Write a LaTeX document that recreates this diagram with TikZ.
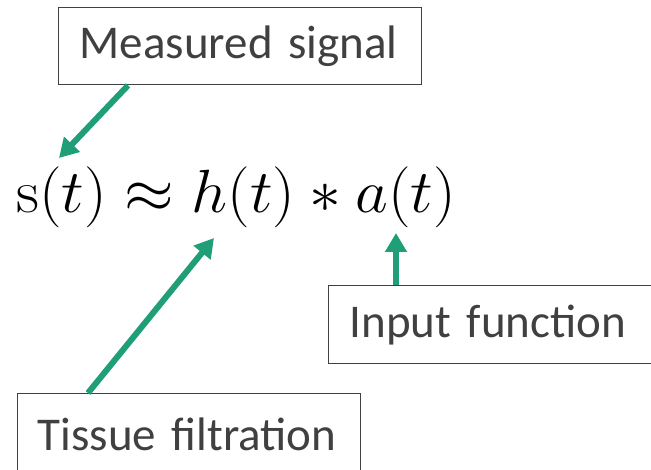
\documentclass[tikz,border=0pt]{standalone}
\usepackage{fix-cm}
\usepackage{amsmath}
\usepackage{graphicx}
\usepackage[no-math]{fontspec}
\setmainfont{Carlito}
\usetikzlibrary{arrows.meta, positioning, calc}
\definecolor{convGreen}{HTML}{1F9E78}
\definecolor{convGray}{HTML}{404040}

\begin{document}
\begin{tikzpicture}[
  x=1pt, y=-1pt,
  pointer/.style={-{Triangle[length=19pt, width=21pt]}, line width=6pt, draw=convGreen},
  labelbox/.style={draw=convGray, line width=1.4pt, text=convGray, inner ysep=0pt,
    font=\fontsize{47}{51}\selectfont, anchor=north west, align=left}
]
  \useasboundingbox (0,0) rectangle (651,470);

  % equation
  \node[anchor=base west, inner sep=0pt, font=\fontsize{61}{65}\selectfont] (eq) at (16,213)
    {\scalebox{1.045}[1]{$\mathrm{s}(t) \approx h(t) \ast a(t)$}};

  % label boxes
  \node[labelbox, text width=321pt, inner xsep=21pt, minimum height=77pt] (msig) at (58,7)
    {Measured signal};
  \node[labelbox, text width=330pt, inner xsep=21pt, minimum height=78pt] (inp) at (328,285)
    {Input function};
  \node[labelbox, text width=303pt, inner xsep=20pt, minimum height=82pt] (tis) at (17,393)
    {Tissue filtration};

  % arrow tips at the equation
  \coordinate (atS) at (59,158);
  \coordinate (atH) at (214,238);
  \coordinate (atA) at (396,233);

  \draw[pointer] ([xshift=70pt]msig.south west) -- (atS);
  \draw[pointer] ([xshift=71pt]tis.north west) -- (atH);
  \draw[pointer] ([xshift=68pt]inp.north west) -- (atA);

\end{tikzpicture}
\end{document}
